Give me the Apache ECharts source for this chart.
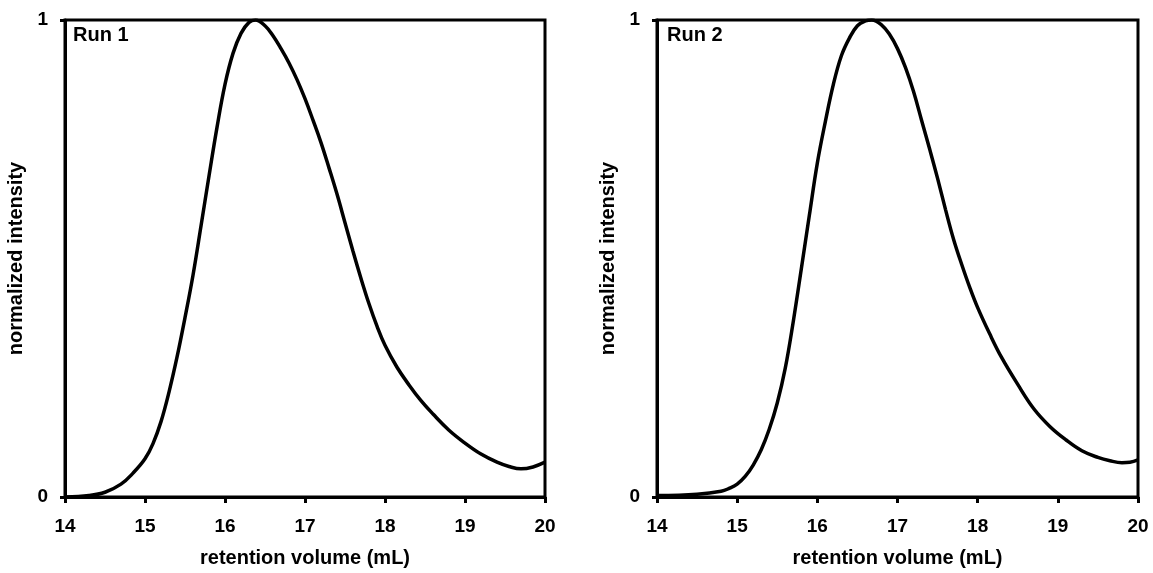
<!DOCTYPE html>
<html>
<head>
<meta charset="utf-8">
<script src="https://cdn.jsdelivr.net/npm/echarts@6/dist/echarts.min.js"></script>
<style>
html,body{margin:0;padding:0;background:#fff;}
#c{width:1153px;height:573px;}
</style>
</head>
<body>
<div id="c"></div>
<script>
var panelTitles = ['Run 1', 'Run 2'];
var xTitle = 'retention volume (mL)';
var yTitle = 'normalized intensity';

var run1Volume = [14.0, 14.3, 14.5, 14.7, 14.85, 15.0, 15.1, 15.2, 15.3, 15.4, 15.5, 15.6, 15.7, 15.8, 15.9, 16.0, 16.1, 16.2, 16.3, 16.38, 16.5, 16.6, 16.7, 16.8, 16.9, 17.0, 17.1, 17.2, 17.3, 17.4, 17.5, 17.6, 17.7, 17.8, 17.9, 18.0, 18.15, 18.3, 18.45, 18.6, 18.8, 19.0, 19.2, 19.4, 19.55, 19.7, 19.85, 20.0];
var run1Intensity = [0.0, 0.003, 0.01, 0.027, 0.05, 0.08, 0.112, 0.158, 0.22, 0.293, 0.376, 0.465, 0.568, 0.673, 0.775, 0.865, 0.93, 0.972, 0.995, 1.0, 0.988, 0.967, 0.94, 0.91, 0.875, 0.835, 0.79, 0.743, 0.69, 0.635, 0.575, 0.515, 0.458, 0.405, 0.358, 0.318, 0.272, 0.235, 0.202, 0.174, 0.14, 0.113, 0.09, 0.073, 0.064, 0.059, 0.063, 0.073];

var run2Volume = [14.0, 14.5, 14.8, 14.9, 15.0, 15.1, 15.2, 15.3, 15.4, 15.5, 15.6, 15.7, 15.8, 15.9, 16.0, 16.1, 16.2, 16.3, 16.4, 16.5, 16.6, 16.68, 16.8, 16.9, 17.0, 17.1, 17.2, 17.3, 17.4, 17.5, 17.6, 17.7, 17.8, 17.9, 18.0, 18.15, 18.3, 18.5, 18.7, 18.9, 19.1, 19.3, 19.5, 19.65, 19.8, 19.9, 20.0];
var run2Intensity = [0.003, 0.006, 0.012, 0.018, 0.027, 0.043, 0.067, 0.099, 0.142, 0.197, 0.27, 0.368, 0.478, 0.59, 0.7, 0.787, 0.865, 0.925, 0.962, 0.988, 0.998, 1.0, 0.99, 0.97, 0.94, 0.9, 0.85, 0.79, 0.73, 0.668, 0.602, 0.54, 0.488, 0.44, 0.397, 0.342, 0.292, 0.236, 0.185, 0.148, 0.12, 0.097, 0.083, 0.076, 0.072, 0.073, 0.078];

var xMin = 14, xMax = 20, xStep = 1;
var yMin = 0, yMax = 1, yStep = 1;

function pairs(xs, ys) { return xs.map(function (x, i) { return [x, ys[i]]; }); }

var FONT = '"Liberation Sans", Arial, sans-serif';
var grids = [
  { left: 65, top: 20, width: 480, height: 479 },
  { left: 657, top: 20, width: 481, height: 479 }
];

function xAxis(i) {
  return {
    gridIndex: i, type: 'value', min: xMin, max: xMax, interval: xStep,
    name: xTitle, nameLocation: 'middle', nameGap: 51,
    nameTextStyle: { fontFamily: FONT, fontWeight: 'bold', fontSize: 20, color: '#000' },
    axisLine: { show: true, lineStyle: { color: '#000', width: 3 } },
    axisTick: { show: true, inside: false, length: 6, lineStyle: { color: '#000', width: 3 } },
    axisLabel: { fontFamily: FONT, fontWeight: 'bold', fontSize: 19, color: '#000', margin: 20 },
    splitLine: { show: false }
  };
}
function yAxis(i) {
  return {
    gridIndex: i, type: 'value', min: yMin, max: yMax, interval: yStep,
    name: yTitle, nameLocation: 'middle', nameGap: 39,
    nameTextStyle: { fontFamily: FONT, fontWeight: 'bold', fontSize: 20, color: '#000' },
    axisLine: { show: true, lineStyle: { color: '#000', width: 3 } },
    axisTick: { show: true, inside: false, length: 5, lineStyle: { color: '#000', width: 3 } },
    axisLabel: { fontFamily: FONT, fontWeight: 'bold', fontSize: 19, color: '#000', margin: 17 },
    splitLine: { show: false }
  };
}

var option = {
  backgroundColor: '#fff',
  animation: false,
  title: [
    { text: panelTitles[0], left: 73, top: 25, padding: 0, textStyle: { fontFamily: FONT, fontWeight: 'bold', fontSize: 20, color: '#000' } },
    { text: panelTitles[1], left: 667, top: 25, padding: 0, textStyle: { fontFamily: FONT, fontWeight: 'bold', fontSize: 20, color: '#000' } }
  ],
  grid: grids.map(function (g) {
    return Object.assign({ show: true, borderColor: '#000', borderWidth: 3, backgroundColor: 'transparent' }, g);
  }),
  xAxis: [xAxis(0), xAxis(1)],
  yAxis: [yAxis(0), yAxis(1)],
  series: [
    { type: 'line', xAxisIndex: 0, yAxisIndex: 0, data: pairs(run1Volume, run1Intensity), showSymbol: false, smooth: 0.4, lineStyle: { color: '#000', width: 3.5 } },
    { type: 'line', xAxisIndex: 1, yAxisIndex: 1, data: pairs(run2Volume, run2Intensity), showSymbol: false, smooth: 0.4, lineStyle: { color: '#000', width: 3.5 } }
  ]
};
echarts.init(document.getElementById('c'), null, { renderer: 'canvas' }).setOption(option);
</script>
</body>
</html>
